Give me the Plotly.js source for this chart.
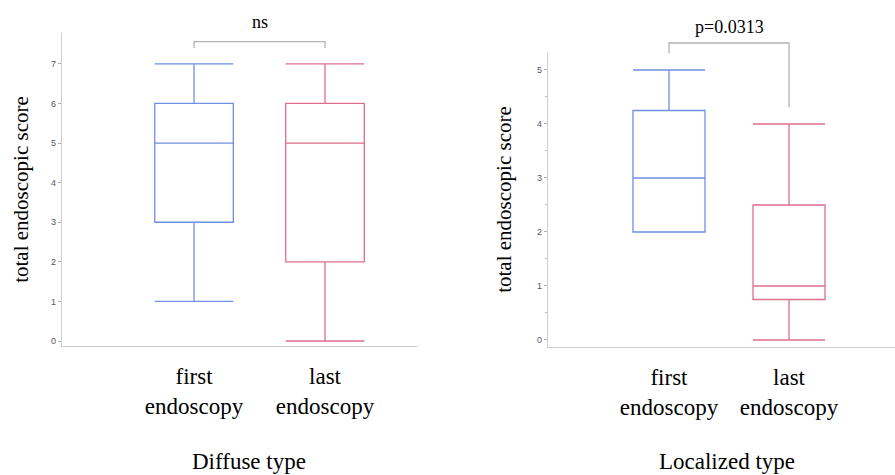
<!DOCTYPE html>
<html>
<head>
<meta charset="utf-8">
<script src="https://cdn.plot.ly/plotly-3.0.1.min.js"></script>
<style>html,body{margin:0;padding:0;background:#fff;}#chart{width:895px;height:475px;}</style>
</head>
<body>
<div id="chart"></div>
<script>
// ---- data ----
const categories = ['first<br>endoscopy', 'last<br>endoscopy'];
const panelTitles = ['Diffuse type', 'Localized type'];
const yTitle = 'total endoscopic score';

// Diffuse type (first, last)
const diffuseMin = [1, 0];
const diffuseQ1 = [3, 2];
const diffuseMedian = [5, 5];
const diffuseQ3 = [6, 6];
const diffuseMax = [7, 7];

// Localized type (first, last)
const localizedMin = [2, 0];
const localizedQ1 = [2, 0.75];
const localizedMedian = [3, 1];
const localizedQ3 = [4.25, 2.5];
const localizedMax = [5, 4];

const pLabels = ['ns', 'p=0.0313'];

// ---- style ----
const colors = ['rgb(112,142,226)', 'rgb(222,110,140)'];
const serif = 'Liberation Serif';

function boxes(xa, ya, mins, q1, med, q3, maxs) {
  return categories.map((c, i) => ({
    type: 'box', x: [c], q1: [q1[i]], median: [med[i]], q3: [q3[i]],
    lowerfence: [mins[i]], upperfence: [maxs[i]],
    xaxis: xa, yaxis: ya, width: 0.6, whiskerwidth: 1,
    fillcolor: 'rgba(0,0,0,0)', line: {color: colors[i], width: 1.3},
    boxpoints: false, showlegend: false, hoverinfo: 'skip'
  }));
}

const data = [
  ...boxes('x', 'y', diffuseMin, diffuseQ1, diffuseMedian, diffuseQ3, diffuseMax),
  ...boxes('x2', 'y2', localizedMin, localizedQ1, localizedMedian, localizedQ3, localizedMax)
];

const xr1 = [-1.008, 1.71], yr1 = [-0.126, 7.78];
const xr2 = [-1.008, 1.883], yr2 = [-0.13, 5.333];

function frac(v, r) { return (v - r[0]) / (r[1] - r[0]); }

// bracket: from category 0 to 1, top value, left leg end, right leg end (data units)
function bracket(n, xr, yr, top, leftEnd, rightEnd) {
  const xs = n === 1 ? 'x' : 'x2', ys = n === 1 ? 'y' : 'y2';
  const x0 = frac(0, xr), x1 = frac(1, xr);
  const t = frac(top, yr), l = frac(leftEnd, yr), r = frac(rightEnd, yr);
  return {
    type: 'path', xref: xs + ' domain', yref: ys + ' domain',
    path: `M${x0},${l} L${x0},${t} L${x1},${t} L${x1},${r}`,
    line: {color: '#b3b3b3', width: 1.3}
  };
}

const axisCommon = {
  showgrid: false, zeroline: false, showline: true, linecolor: '#cfcfcf', linewidth: 1.2
};
const yCommon = Object.assign({}, axisCommon, {
  ticks: 'outside', ticklen: 3, tickcolor: '#b0b0b0', tickwidth: 1,
  tickfont: {family: 'Liberation Sans', size: 9, color: '#555'},
  dtick: 1, title: {text: yTitle, font: {family: serif, size: 21, color: '#000'}, standoff: 16}
});
const xCommon = Object.assign({}, axisCommon, {
  type: 'category', ticks: '', ticklabelstandoff: 9,
  tickfont: {family: serif, size: 23, color: '#000'}
});

const layout = {
  width: 895, height: 475, margin: {l: 0, r: 0, t: 0, b: 0},
  paper_bgcolor: '#fff', plot_bgcolor: '#fff', showlegend: false,
  font: {family: serif},
  xaxis: Object.assign({}, xCommon, {domain: [62/895, 418/895], range: xr1, anchor: 'y'}),
  yaxis: Object.assign({}, yCommon, {domain: [1 - 346/475, 1 - 33/475], range: yr1, anchor: 'x'}),
  xaxis2: Object.assign({}, xCommon, {domain: [548/895, 1], range: xr2, anchor: 'y2'}),
  yaxis2: Object.assign({}, yCommon, {domain: [1 - 347/475, 1 - 52/475], range: yr2, anchor: 'x2',
    title: {text: yTitle, font: {family: serif, size: 21, color: '#000'}, standoff: 19},
    minor: {dtick: 0.5, ticks: 'outside', ticklen: 2, tickcolor: '#c0c0c0'}}),
  shapes: [
    bracket(1, xr1, yr1, 7.56, 7.40, 7.40),
    bracket(2, xr2, yr2, 5.5, 5.31, 4.31)
  ],
  annotations: [
    {text: pLabels[0], xref: 'x', yref: 'paper', x: 0.5, y: 1 - 22/475, xanchor: 'center', yanchor: 'middle',
     showarrow: false, font: {family: serif, size: 18, color: '#000'}},
    {text: pLabels[1], xref: 'x2', yref: 'paper', x: 0.5, y: 1 - 27/475, xanchor: 'center', yanchor: 'middle',
     showarrow: false, font: {family: serif, size: 18, color: '#000'}},
    {text: panelTitles[0], xref: 'paper', yref: 'paper', x: 249/895, y: 1 - 461/475, xanchor: 'center', yanchor: 'middle',
     showarrow: false, font: {family: serif, size: 23, color: '#000'}},
    {text: panelTitles[1], xref: 'paper', yref: 'paper', x: 727/895, y: 1 - 461/475, xanchor: 'center', yanchor: 'middle',
     showarrow: false, font: {family: serif, size: 23, color: '#000'}}
  ]
};

Plotly.newPlot('chart', data, layout, {staticPlot: true, displayModeBar: false});
</script>
</body>
</html>
